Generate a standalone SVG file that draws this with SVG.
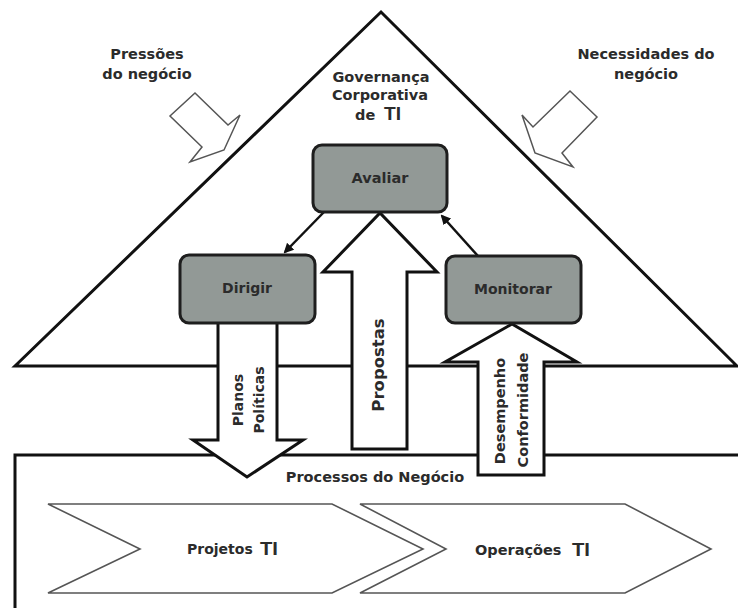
<svg xmlns="http://www.w3.org/2000/svg" width="738" height="608" viewBox="0 0 738 608">
<style>
  .lbl { font-family: "DejaVu Sans", "Liberation Sans", sans-serif; font-weight: bold; font-size: 14.5px; fill: #2b2b2b; }
  .ti { font-family: "Liberation Sans", "DejaVu Sans", sans-serif; font-weight: bold; font-size: 19px; fill: #2b2b2b; }
  .box { fill: #929996; stroke: #1e1e1e; stroke-width: 3; }
  .bigarrow { fill: #ffffff; stroke: #111111; stroke-width: 3; stroke-linejoin: miter; }
  .hollow { fill: #ffffff; stroke: #555555; stroke-width: 1.5; stroke-linejoin: miter; }
  .chev { fill: #ffffff; stroke: #555555; stroke-width: 1.6; }
  .conn { stroke: #111111; stroke-width: 2.5; fill: none; }
</style>
<defs>
  <marker id="ah" viewBox="0 0 10 10" refX="8" refY="5" markerWidth="4" markerHeight="4" orient="auto" markerUnits="strokeWidth">
    <path d="M0,0 L10,5 L0,10 z" fill="#111111"/>
  </marker>
</defs>
<rect width="738" height="608" fill="#ffffff"/>

<g id="governanca">
  <polygon points="15,366 381,12 737,366" fill="none" stroke="#111111" stroke-width="3" stroke-linejoin="miter"/>
  <text class="lbl" x="381" y="82" text-anchor="middle">Governança</text>
  <text class="lbl" x="380" y="100" text-anchor="middle">Corporativa</text>
  <text class="lbl" x="355" y="120">de</text>
  <text class="ti" x="384" y="120" textLength="17" lengthAdjust="spacingAndGlyphs">TI</text>
</g>

<g id="processos">
  <rect x="15" y="455" width="740" height="180" fill="#ffffff" stroke="#111111" stroke-width="3"/>
  <text class="lbl" x="375" y="482" text-anchor="middle">Processos do Negócio</text>
</g>

<g id="pressoes">
  <text class="lbl" x="147" y="59" text-anchor="middle">Pressões</text>
  <text class="lbl" x="147" y="79" text-anchor="middle">do negócio</text>
  <polygon class="hollow" points="195,93 228,125 240,115 224,150 190,162 202,147 170,116"/>
</g>

<g id="necessidades">
  <text class="lbl" x="646" y="59" text-anchor="middle">Necessidades do</text>
  <text class="lbl" x="646" y="79" text-anchor="middle">negócio</text>
  <polygon class="hollow" points="570,91 597,117 562,153 573,167 535,153 522,115 533,127"/>
</g>

<g id="propostas">
  <polygon class="bigarrow" points="352,449 352,272 323,272 380,213 437,272 407,272 407,449"/>
  <text class="lbl" style="font-size:16.5px" transform="translate(384,365) rotate(-90)" text-anchor="middle">Propostas</text>
</g>

<g id="planos">
  <polygon class="bigarrow" points="218,320 218,440 193,440 247,477 303,440 277,440 277,320"/>
  <text class="lbl" style="font-size:14px" transform="translate(243,400) rotate(-90)" text-anchor="middle">Planos</text>
  <text class="lbl" style="font-size:14px" transform="translate(264,400) rotate(-90)" text-anchor="middle">Políticas</text>
</g>

<g id="desempenho">
  <polygon class="bigarrow" points="478,475 478,362 445,362 512,324 577,362 544,362 544,475"/>
  <text class="lbl" style="font-size:14.5px" transform="translate(505,411) rotate(-90)" text-anchor="middle">Desempenho</text>
  <text class="lbl" style="font-size:14.5px" transform="translate(528,410) rotate(-90)" text-anchor="middle">Conformidade</text>
</g>

<g id="connectors">
  <line class="conn" x1="324" y1="212" x2="285" y2="252" marker-end="url(#ah)"/>
  <line class="conn" x1="478" y1="256" x2="442" y2="216" marker-end="url(#ah)"/>
</g>

<g id="avaliar">
  <rect class="box" x="313" y="145" width="134" height="67" rx="9"/>
  <text class="lbl" x="380" y="183" text-anchor="middle">Avaliar</text>
</g>

<g id="dirigir">
  <rect class="box" x="180" y="255" width="135" height="68" rx="9"/>
  <text class="lbl" style="font-size:14px" x="247" y="293" text-anchor="middle">Dirigir</text>
</g>

<g id="monitorar">
  <rect class="box" x="446" y="256" width="135" height="67" rx="9"/>
  <text class="lbl" style="font-size:14px" x="513" y="294" text-anchor="middle">Monitorar</text>
</g>

<g id="projetos">
  <polygon class="chev" points="48,504 332,504 423,549 332,593 48,593 140,549"/>
  <text class="lbl" style="font-size:14px" x="187" y="554">Projetos</text>
  <text class="ti" x="260" y="555" textLength="18" lengthAdjust="spacingAndGlyphs">TI</text>
</g>

<g id="operacoes">
  <polygon class="chev" points="360,504 625,504 711,549 625,593 360,593 446,549"/>
  <text class="lbl" x="475" y="555">Operações</text>
  <text class="ti" x="572" y="556" textLength="18" lengthAdjust="spacingAndGlyphs">TI</text>
</g>
</svg>
